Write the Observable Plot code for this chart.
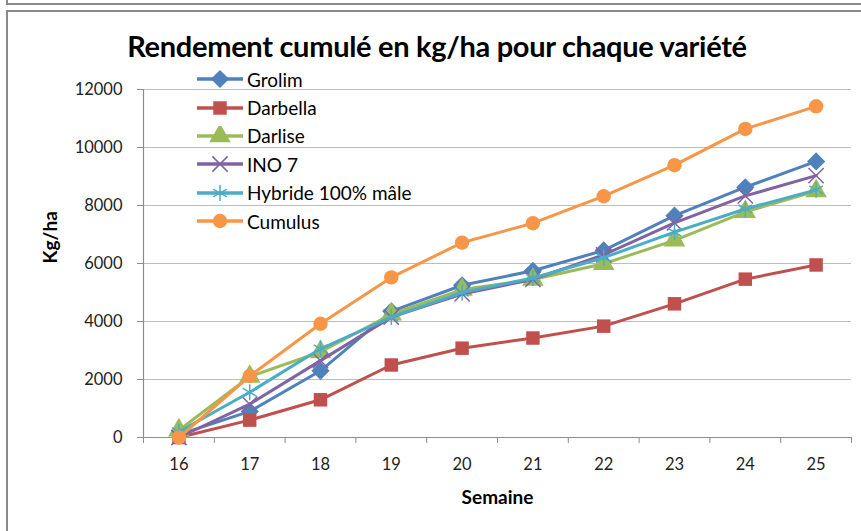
<!DOCTYPE html>
<html>
<head>
<meta charset="utf-8">
<script src="https://cdn.jsdelivr.net/npm/d3@7"></script>
<script src="https://cdn.jsdelivr.net/npm/@observablehq/plot@0.6"></script>
<style>
  html, body { margin: 0; padding: 0; background: #fff; }
  #wrap { position: relative; width: 861px; height: 531px; overflow: hidden; font-family: Lato, "Open Sans", sans-serif; }
  #chart > svg { position: absolute; left: 0; top: 0; }
  .frameTop { position: absolute; left: 6px; top: -4px; width: 900px; height: 7px; border-left: 2px solid #8a8a8a; border-bottom: 2px solid #8a8a8a; }
  .frameMain { position: absolute; left: 6px; top: 10px; width: 900px; height: 600px; border-left: 2px solid #8a8a8a; border-top: 2px solid #8a8a8a; }
  #title { position: absolute; left: 0; width: 874px; top: 29px; text-align: center; font-weight: bold; font-size: 29px; line-height: 34px; color: #000; letter-spacing: -0.3px; }
  #legend { position: absolute; left: 196px; top: 65px; }
  .lg-row { display: flex; align-items: center; height: 28.4px; font-size: 19px; color: #000; white-space: nowrap; }
  .lg-row svg { display: block; margin-right: 3px; }
</style>
</head>
<body>
<div id="wrap">
  <div class="frameTop"></div>
  <div class="frameMain"></div>
  <div id="chart"></div>
  <div id="title">Rendement cumulé en kg/ha pour chaque variété</div>
  <div id="legend"></div>
</div>
<script>
// ---- data ----
const weeks = [16, 17, 18, 19, 20, 21, 22, 23, 24, 25];
const seriesNames = ["Grolim", "Darbella", "Darlise", "INO 7", "Hybride 100% mâle", "Cumulus"];
const grolim   = [100, 900, 2300, 4350, 5250, 5750, 6450, 7650, 8630, 9520];
const darbella = [0, 600, 1300, 2500, 3080, 3430, 3840, 4610, 5460, 5950];
const darlise  = [250, 2100, 2950, 4250, 5100, 5450, 5990, 6800, 7780, 8500];
const ino7     = [0, 1150, 2650, 4150, 4950, 5450, 6300, 7400, 8330, 9030];
const hybride  = [200, 1560, 3060, 4150, 5000, 5500, 6200, 7080, 7880, 8540];
const cumulus  = [0, 2120, 3920, 5520, 6720, 7390, 8320, 9390, 10640, 11420];
const yTicks = [0, 2000, 4000, 6000, 8000, 10000, 12000];
const colors = ["#4F81BD", "#C0504D", "#9BBB59", "#8064A2", "#4BACC6", "#F79646"];
const symbols = ["diamond2", "square", "triangle", "times", "asterisk", "circle"];

const allValues = [grolim, darbella, darlise, ino7, hybride, cumulus];
const rows = [];
seriesNames.forEach((name, i) => {
  weeks.forEach((w, j) => rows.push({ series: name, week: w, value: allValues[i][j] }));
});
const boundaries = weeks.map(w => w - 0.5).concat([weeks[weeks.length - 1] + 0.5]);

const filledSym = new Set(["diamond2", "square", "triangle", "circle"]);
const symR = { diamond2: 8.2, square: 7.6, triangle: 8, times: 7, asterisk: 7.5, circle: 7.2 };

const marks = [
  Plot.gridY(yTicks.filter(t => t > 0), { stroke: "#BDBDBD", strokeOpacity: 1, strokeWidth: 1.2 }),
  Plot.ruleY([0], { stroke: "#8C8C8C", strokeWidth: 1.2 }),
  Plot.ruleX([boundaries[0]], { stroke: "#8C8C8C", strokeWidth: 1.2 }),
  Plot.axisY({ ticks: yTicks, tickSize: 6, tickPadding: 15, tickFormat: d => String(d), fontSize: 16.5, fill: "#222", stroke: "#8C8C8C", label: null }),
  Plot.axisX({ ticks: boundaries, tickSize: 6, tickFormat: () => "", stroke: "#8C8C8C", label: null }),
  Plot.axisX({ ticks: weeks, tickSize: 0, tickPadding: 21, tickFormat: d => String(d), fontSize: 16.5, fill: "#222", label: null }),
];
seriesNames.forEach((name, i) => {
  const data = rows.filter(r => r.series === name);
  marks.push(Plot.line(data, { x: "week", y: "value", stroke: colors[i], strokeWidth: 3 }));
  const sym = symbols[i];
  if (filledSym.has(sym)) {
    marks.push(Plot.dot(data, { x: "week", y: "value", symbol: () => sym, r: symR[sym], fill: colors[i], stroke: "none" }));
  } else {
    marks.push(Plot.dot(data, { x: "week", y: "value", symbol: () => sym, r: symR[sym], stroke: colors[i], strokeWidth: 1.5, fill: "none" }));
  }
});

const chart = Plot.plot({
  width: 861,
  height: 531,
  marginLeft: 143,
  marginRight: 10,
  marginTop: 89,
  marginBottom: 94,
  x: { type: "linear", domain: [boundaries[0], boundaries[boundaries.length - 1]], axis: null },
  y: { domain: [0, 12000], axis: null },
  symbol: { type: "identity" },
  style: { fontFamily: "Lato, 'Open Sans', sans-serif", background: "transparent", overflow: "visible" },
  marks: marks.concat([
    Plot.text(["Kg/ha"], { frameAnchor: "left", dx: -93, rotate: -90, fontWeight: "bold", fontSize: 19, fill: "#000" }),
    Plot.text(["Semaine"], { frameAnchor: "bottom", dy: 66, fontWeight: "bold", fontSize: 19, fill: "#000" })
  ])
});
document.getElementById("chart").appendChild(chart);

// legend
const legend = d3.select("#legend");
seriesNames.forEach((name, i) => {
  const row = legend.append("div").attr("class", "lg-row");
  const s = row.append("svg").attr("width", 48).attr("height", 20);
  s.append("line").attr("x1", 1).attr("x2", 47).attr("y1", 10).attr("y2", 10).attr("stroke", colors[i]).attr("stroke-width", 3.5);
  const sym = symbols[i];
  const gen = { diamond2: d3.symbolDiamond2, square: d3.symbolSquare, triangle: d3.symbolTriangle, times: d3.symbolTimes, asterisk: d3.symbolAsterisk, circle: d3.symbolCircle }[sym];
  const r = symR[sym];
  const p = s.append("path").attr("transform", "translate(24,10)").attr("d", d3.symbol(gen, Math.PI * r * r)());
  if (filledSym.has(sym)) p.attr("fill", colors[i]);
  else p.attr("fill", "none").attr("stroke", colors[i]).attr("stroke-width", 1.5);
  row.append("span").text(name);
});
</script>
</body>
</html>
